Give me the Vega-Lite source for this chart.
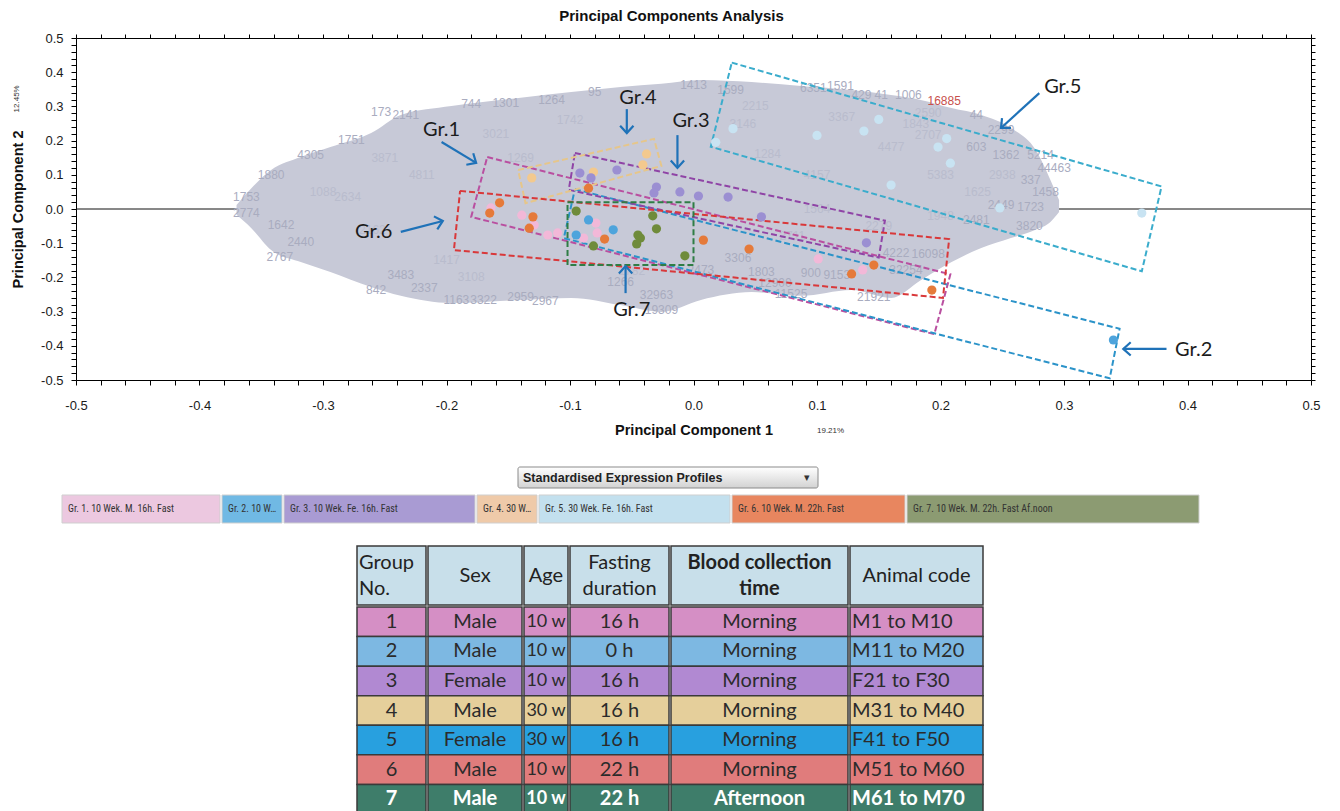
{
"$schema": "https://vega.github.io/schema/vega-lite/v6.json",
"background": "white",
"padding": {"left": 10, "top": 9, "right": 4, "bottom": 0},
"config": {"view": {"stroke": null}, "font": "Liberation Sans",
  "axis": {"grid": false, "labelFont": "Liberation Sans", "labelFontSize": 13, "labelColor": "#1a1a1a", "titleFont": "Liberation Sans", "titleFontSize": 14.5, "titleFontWeight": "bold", "titleColor": "#111", "domainColor": "#000", "tickColor": "#000", "domainWidth": 1, "tickWidth": 1}},
"datasets": {
  "samples": [
    {"g":"5","x":0.032,"y":0.235},{"g":"5","x":0.018,"y":0.195},{"g":"5","x":0.100,"y":0.215},{"g":"5","x":0.138,"y":0.228},{"g":"5","x":0.150,"y":0.262},{"g":"5","x":0.205,"y":0.206},{"g":"5","x":0.198,"y":0.181},{"g":"5","x":0.208,"y":0.134},{"g":"5","x":0.160,"y":0.070},{"g":"5","x":0.248,"y":0.003},{"g":"5","x":0.363,"y":-0.012},
    {"g":"4","x":-0.131,"y":0.091},{"g":"4","x":-0.081,"y":0.108},{"g":"4","x":-0.038,"y":0.161},{"g":"4","x":-0.041,"y":0.129},
    {"g":"3","x":-0.092,"y":0.105},{"g":"3","x":-0.083,"y":0.091},{"g":"3","x":-0.062,"y":0.114},{"g":"3","x":-0.030,"y":0.064},{"g":"3","x":-0.032,"y":0.047},{"g":"3","x":-0.011,"y":0.050},{"g":"3","x":0.004,"y":0.038},{"g":"3","x":0.028,"y":0.035},{"g":"3","x":0.055,"y":-0.023},{"g":"3","x":0.140,"y":-0.099},
    {"g":"1","x":-0.164,"y":0.003},{"g":"1","x":-0.139,"y":-0.018},{"g":"1","x":-0.129,"y":-0.047},{"g":"1","x":-0.118,"y":-0.076},{"g":"1","x":-0.110,"y":-0.070},{"g":"1","x":-0.079,"y":-0.041},{"g":"1","x":-0.089,"y":-0.085},{"g":"1","x":-0.078,"y":-0.070},{"g":"1","x":0.101,"y":-0.146},{"g":"1","x":0.137,"y":-0.178},
    {"g":"2","x":-0.085,"y":-0.032},{"g":"2","x":-0.065,"y":-0.061},{"g":"2","x":-0.095,"y":-0.076},{"g":"2","x":0.340,"y":-0.383},
    {"g":"6","x":-0.157,"y":0.018},{"g":"6","x":-0.165,"y":-0.012},{"g":"6","x":-0.130,"y":-0.023},{"g":"6","x":-0.133,"y":-0.056},{"g":"6","x":-0.085,"y":0.061},{"g":"6","x":-0.072,"y":-0.088},{"g":"6","x":0.008,"y":-0.091},{"g":"6","x":0.045,"y":-0.117},{"g":"6","x":0.146,"y":-0.164},{"g":"6","x":0.128,"y":-0.190},{"g":"6","x":0.193,"y":-0.237},
    {"g":"7","x":-0.095,"y":-0.006},{"g":"7","x":-0.033,"y":-0.020},{"g":"7","x":-0.030,"y":-0.058},{"g":"7","x":-0.045,"y":-0.076},{"g":"7","x":-0.043,"y":-0.085},{"g":"7","x":-0.046,"y":-0.102},{"g":"7","x":-0.007,"y":-0.137},{"g":"7","x":-0.081,"y":-0.108}
  ],
  "cloud": [
    {"x":-0.370,"hi":0.012,"lo":-0.017},{"x":-0.358,"hi":0.061,"lo":-0.056},{"x":-0.342,"hi":0.114,"lo":-0.120},{"x":-0.318,"hi":0.152,"lo":-0.155},{"x":-0.294,"hi":0.181,"lo":-0.184},{"x":-0.261,"hi":0.222,"lo":-0.228},{"x":-0.237,"hi":0.275,"lo":-0.254},{"x":-0.196,"hi":0.301,"lo":-0.275},{"x":-0.140,"hi":0.325,"lo":-0.266},{"x":-0.099,"hi":0.342,"lo":-0.260},{"x":-0.059,"hi":0.357,"lo":-0.281},{"x":-0.026,"hi":0.366,"lo":-0.301},{"x":0.006,"hi":0.377,"lo":-0.266},{"x":0.047,"hi":0.371,"lo":-0.243},{"x":0.087,"hi":0.360,"lo":-0.254},{"x":0.128,"hi":0.348,"lo":-0.237},{"x":0.160,"hi":0.333,"lo":-0.260},{"x":0.184,"hi":0.319,"lo":-0.208},{"x":0.209,"hi":0.295,"lo":-0.155},{"x":0.233,"hi":0.275,"lo":-0.114},{"x":0.257,"hi":0.237,"lo":-0.085},{"x":0.277,"hi":0.173,"lo":-0.061},{"x":0.289,"hi":0.085,"lo":-0.038},{"x":0.296,"hi":0.026,"lo":-0.009}
  ],
  "edgeLabels": [
    {"x":-0.253,"y":0.284,"t":"173"},{"x":-0.233,"y":0.275,"t":"2141"},{"x":-0.180,"y":0.307,"t":"744"},{"x":-0.152,"y":0.310,"t":"1301"},{"x":-0.115,"y":0.319,"t":"1264"},{"x":-0.080,"y":0.342,"t":"95"},{"x":0.0,"y":0.363,"t":"1413"},{"x":0.030,"y":0.348,"t":"1599"},{"x":0.097,"y":0.354,"t":"6351"},{"x":0.119,"y":0.360,"t":"1591"},{"x":0.136,"y":0.333,"t":"429"},{"x":0.152,"y":0.333,"t":"41"},{"x":0.174,"y":0.333,"t":"1006"},{"x":0.229,"y":0.275,"t":"44"},{"x":0.249,"y":0.231,"t":"2299"},{"x":0.229,"y":0.181,"t":"603"},{"x":0.253,"y":0.158,"t":"1362"},{"x":0.281,"y":0.158,"t":"5214"},{"x":0.292,"y":0.120,"t":"44463"},{"x":0.273,"y":0.085,"t":"337"},{"x":0.285,"y":0.050,"t":"1458"},{"x":0.249,"y":0.012,"t":"2449"},{"x":0.273,"y":0.006,"t":"1723"},{"x":0.272,"y":-0.050,"t":"3820"},{"x":0.229,"y":-0.032,"t":"2481"},{"x":0.164,"y":-0.129,"t":"4222"},{"x":0.190,"y":-0.132,"t":"16098"},{"x":0.172,"y":-0.178,"t":"32254"},{"x":0.146,"y":-0.257,"t":"21921"},{"x":0.079,"y":-0.249,"t":"11525"},{"x":0.095,"y":-0.187,"t":"900"},{"x":0.116,"y":-0.193,"t":"9153"},{"x":0.055,"y":-0.184,"t":"1803"},{"x":0.006,"y":-0.178,"t":"2473"},{"x":0.036,"y":-0.143,"t":"3306"},{"x":-0.026,"y":-0.295,"t":"19309"},{"x":-0.030,"y":-0.251,"t":"32963"},{"x":-0.059,"y":-0.213,"t":"1266"},{"x":-0.140,"y":-0.257,"t":"2959"},{"x":-0.192,"y":-0.266,"t":"1163"},{"x":-0.170,"y":-0.266,"t":"3322"},{"x":-0.257,"y":-0.237,"t":"842"},{"x":-0.237,"y":-0.193,"t":"3483"},{"x":-0.335,"y":-0.140,"t":"2767"},{"x":-0.318,"y":-0.096,"t":"2440"},{"x":-0.334,"y":-0.047,"t":"1642"},{"x":-0.362,"y":-0.012,"t":"2774"},{"x":-0.362,"y":0.035,"t":"1753"},{"x":-0.342,"y":0.099,"t":"1880"},{"x":-0.310,"y":0.158,"t":"4305"},{"x":-0.277,"y":0.202,"t":"1751"},{"x":-0.218,"y":-0.230,"t":"2337"},{"x":-0.120,"y":-0.270,"t":"2967"},{"x":0.066,"y":-0.215,"t":"12900"}
  ],
  "innerLabels": [
    {"x":-0.30,"y":0.05,"t":"1088"},{"x":-0.26,"y":-0.06,"t":"2162"},{"x":-0.22,"y":0.10,"t":"4811"},{"x":-0.16,"y":0.22,"t":"3021"},{"x":-0.10,"y":0.26,"t":"1742"},{"x":0.05,"y":0.30,"t":"2215"},{"x":0.12,"y":0.27,"t":"3367"},{"x":0.18,"y":0.25,"t":"1843"},{"x":0.19,"y":0.215,"t":"2707"},{"x":0.20,"y":0.10,"t":"5383"},{"x":0.23,"y":0.05,"t":"1625"},{"x":0.25,"y":0.10,"t":"2938"},{"x":0.10,"y":0.10,"t":"4157"},{"x":0.06,"y":0.16,"t":"1284"},{"x":-0.20,"y":-0.15,"t":"1417"},{"x":-0.28,"y":0.035,"t":"2634"},{"x":-0.18,"y":-0.20,"t":"3108"},{"x":0.10,"y":0.00,"t":"1564"},{"x":0.15,"y":-0.05,"t":"2279"},{"x":0.20,"y":-0.02,"t":"1948"},{"x":0.08,"y":-0.08,"t":"2711"},{"x":-0.25,"y":0.15,"t":"3871"},{"x":-0.14,"y":0.15,"t":"1269"},{"x":0.16,"y":0.18,"t":"4477"},{"x":0.19,"y":0.28,"t":"2590"},{"x":-0.05,"y":-0.18,"t":"1782"},{"x":0.04,"y":0.25,"t":"3146"}
  ],
  "redLabel": [{"x":0.203,"y":0.316,"t":"16885"}],
  "pctX": [{"x":0.100,"y":-0.649,"t":"19.21%"}],
  "pctY": [{"x":-0.548,"y":0.322,"t":"12.45%"}],
  "boxes": [
    {"b":"1","k":0,"x":-0.167,"y":0.152},{"b":"1","k":1,"x":0.208,"y":-0.191},{"b":"1","k":2,"x":0.195,"y":-0.366},{"b":"1","k":3,"x":-0.180,"y":-0.023},{"b":"1","k":4,"x":-0.167,"y":0.152},
    {"b":"2","k":0,"x":-0.096,"y":0.058},{"b":"2","k":1,"x":0.345,"y":-0.350},{"b":"2","k":2,"x":0.337,"y":-0.495},{"b":"2","k":3,"x":-0.105,"y":-0.085},{"b":"2","k":4,"x":-0.096,"y":0.058},
    {"b":"3","k":0,"x":-0.096,"y":0.164},{"b":"3","k":1,"x":0.155,"y":-0.034},{"b":"3","k":2,"x":0.150,"y":-0.142},{"b":"3","k":3,"x":-0.101,"y":0.056},{"b":"3","k":4,"x":-0.096,"y":0.164},
    {"b":"4","k":0,"x":-0.142,"y":0.114},{"b":"4","k":1,"x":-0.032,"y":0.205},{"b":"4","k":2,"x":-0.026,"y":0.126},{"b":"4","k":3,"x":-0.136,"y":0.017},{"b":"4","k":4,"x":-0.142,"y":0.114},
    {"b":"5","k":0,"x":0.031,"y":0.428},{"b":"5","k":1,"x":0.379,"y":0.066},{"b":"5","k":2,"x":0.363,"y":-0.182},{"b":"5","k":3,"x":0.014,"y":0.182},{"b":"5","k":4,"x":0.031,"y":0.428},
    {"b":"6","k":0,"x":-0.189,"y":0.053},{"b":"6","k":1,"x":0.207,"y":-0.088},{"b":"6","k":2,"x":0.202,"y":-0.260},{"b":"6","k":3,"x":-0.194,"y":-0.120},{"b":"6","k":4,"x":-0.189,"y":0.053},
    {"b":"7","k":0,"x":-0.102,"y":0.020},{"b":"7","k":1,"x":0.000,"y":0.020},{"b":"7","k":2,"x":0.000,"y":-0.164},{"b":"7","k":3,"x":-0.102,"y":-0.164},{"b":"7","k":4,"x":-0.102,"y":0.020}
  ],
  "arrows": [
    {"lab":"Gr.1","x1":-0.204,"y1":0.196,"x2":-0.176,"y2":0.135,"tx":-0.204,"ty":0.231},
    {"lab":"Gr.4","x1":-0.054,"y1":0.292,"x2":-0.054,"y2":0.222,"tx":-0.045,"ty":0.325},
    {"lab":"Gr.3","x1":-0.013,"y1":0.216,"x2":-0.013,"y2":0.120,"tx":-0.002,"ty":0.257},
    {"lab":"Gr.6","x1":-0.237,"y1":-0.067,"x2":-0.203,"y2":-0.035,"tx":-0.259,"ty":-0.067},
    {"lab":"Gr.7","x1":-0.055,"y1":-0.246,"x2":-0.055,"y2":-0.167,"tx":-0.050,"ty":-0.295},
    {"lab":"Gr.5","x1":0.280,"y1":0.339,"x2":0.249,"y2":0.237,"tx":0.299,"ty":0.357},
    {"lab":"Gr.2","x1":0.383,"y1":-0.409,"x2":0.348,"y2":-0.409,"tx":0.405,"ty":-0.412}
  ],
  "legend": [
    {"g":"1","label":"Gr. 1. 10 Wek. M. 16h. Fast"},{"g":"2","label":"Gr. 2. 10 W…"},{"g":"3","label":"Gr. 3. 10 Wek. Fe. 16h. Fast"},{"g":"4","label":"Gr. 4. 30 W…"},{"g":"5","label":"Gr. 5. 30 Wek. Fe. 16h. Fast"},{"g":"6","label":"Gr. 6. 10 Wek. M. 22h. Fast"},{"g":"7","label":"Gr. 7. 10 Wek. M. 22h. Fast Af.noon"}
  ],
  "table": [
    {"Group":"1","Sex":"Male","Age":"10 w","Fasting":"16 h","Blood":"Morning","Animal":"M1 to M10"},
    {"Group":"2","Sex":"Male","Age":"10 w","Fasting":"0 h","Blood":"Morning","Animal":"M11 to M20"},
    {"Group":"3","Sex":"Female","Age":"10 w","Fasting":"16 h","Blood":"Morning","Animal":"F21 to F30"},
    {"Group":"4","Sex":"Male","Age":"30 w","Fasting":"16 h","Blood":"Morning","Animal":"M31 to M40"},
    {"Group":"5","Sex":"Female","Age":"30 w","Fasting":"16 h","Blood":"Morning","Animal":"F41 to F50"},
    {"Group":"6","Sex":"Male","Age":"10 w","Fasting":"22 h","Blood":"Morning","Animal":"M51 to M60"},
    {"Group":"7","Sex":"Male","Age":"10 w","Fasting":"22 h","Blood":"Afternoon","Animal":"M61 to M70"}
  ]
},
"columns": 1,
"align": "none",
"spacing": 29,
"concat": [
{
  "width": 1235, "height": 342,
  "title": {"text": "Principal Components Analysis", "fontSize": 15, "fontWeight": "bold", "font": "Liberation Sans", "color": "#111", "offset": 8, "dx": -22},
  "resolve": {"axis": {"x": "independent", "y": "independent"}},
  "layer": [
    {"data": {"values": [{"z": 0}]}, "mark": {"type": "rule", "color": "#111", "strokeWidth": 1},
     "encoding": {"y": {"field": "z", "type": "quantitative", "scale": {"domain": [-0.5, 0.5], "nice": false, "zero": false}, "axis": null}}},
    {"data": {"name": "cloud"}, "mark": {"type": "area", "color": "#c7c9d7", "interpolate": "monotone", "opacity": 1},
     "encoding": {
       "x": {"field": "x", "type": "quantitative", "scale": {"domain": [-0.5, 0.5], "nice": false, "zero": false},
             "axis": {"orient": "bottom", "title": "Principal Component 1", "tickCount": 50, "tickSize": 5, "labelPadding": 14, "titlePadding": 11, "labelOverlap": false, "labelFlush": false, "labelBound": false,
                      "labelExpr": "abs(datum.value*10 - round(datum.value*10)) < 0.001 ? replace(format(datum.value, '.1f'), '\u2212', '-') : ''"}},
       "y": {"field": "hi", "type": "quantitative", "scale": {"domain": [-0.5, 0.5], "nice": false, "zero": false},
             "axis": {"orient": "left", "title": "Principal Component 2", "tickCount": 50, "tickSize": 5, "labelPadding": 8, "titlePadding": 11, "minExtent": 40, "maxExtent": 40, "labelOverlap": false, "labelFlush": false, "labelBound": false,
                      "labelExpr": "abs(datum.value*10 - round(datum.value*10)) < 0.001 ? replace(format(datum.value, '.1f'), '\u2212', '-') : ''"}},
       "y2": {"field": "lo"}}},
    {"data": {"name": "innerLabels"}, "mark": {"type": "text", "fontSize": 12, "font": "Liberation Sans", "color": "#b9bccd"},
     "encoding": {"x": {"field": "x", "type": "quantitative", "scale": {"domain": [-0.5, 0.5], "nice": false, "zero": false}, "axis": null},
                  "y": {"field": "y", "type": "quantitative", "scale": {"domain": [-0.5, 0.5], "nice": false, "zero": false}, "axis": null},
                  "text": {"field": "t"}}},
    {"data": {"name": "edgeLabels"}, "mark": {"type": "text", "fontSize": 12, "font": "Liberation Sans", "color": "#a9acbf"},
     "encoding": {"x": {"field": "x", "type": "quantitative", "scale": {"domain": [-0.5, 0.5], "nice": false, "zero": false}, "axis": null},
                  "y": {"field": "y", "type": "quantitative", "scale": {"domain": [-0.5, 0.5], "nice": false, "zero": false}, "axis": null},
                  "text": {"field": "t"}}},
    {"data": {"name": "redLabel"}, "mark": {"type": "text", "fontSize": 12, "font": "Liberation Sans", "color": "#c8504c"},
     "encoding": {"x": {"field": "x", "type": "quantitative", "scale": {"domain": [-0.5, 0.5], "nice": false, "zero": false}, "axis": null},
                  "y": {"field": "y", "type": "quantitative", "scale": {"domain": [-0.5, 0.5], "nice": false, "zero": false}, "axis": null},
                  "text": {"field": "t"}}},
    {"data": {"name": "pctX"}, "mark": {"type": "text", "fontSize": 8, "font": "Liberation Sans", "color": "#333", "align": "left"},
     "encoding": {"x": {"field": "x", "type": "quantitative", "scale": {"domain": [-0.5, 0.5], "nice": false, "zero": false}, "axis": null},
                  "y": {"field": "y", "type": "quantitative", "scale": {"domain": [-0.5, 0.5], "nice": false, "zero": false}, "axis": null},
                  "text": {"field": "t"}}},
    {"data": {"name": "pctY"}, "mark": {"type": "text", "fontSize": 8, "font": "Liberation Sans", "color": "#333", "angle": 270},
     "encoding": {"x": {"field": "x", "type": "quantitative", "scale": {"domain": [-0.5, 0.5], "nice": false, "zero": false}, "axis": null},
                  "y": {"field": "y", "type": "quantitative", "scale": {"domain": [-0.5, 0.5], "nice": false, "zero": false}, "axis": null},
                  "text": {"field": "t"}}},
    {"data": {"name": "boxes"}, "mark": {"type": "line", "strokeWidth": 2, "strokeDash": [6, 3]},
     "encoding": {"x": {"field": "x", "type": "quantitative", "scale": {"domain": [-0.5, 0.5], "nice": false, "zero": false}, "axis": null},
                  "y": {"field": "y", "type": "quantitative", "scale": {"domain": [-0.5, 0.5], "nice": false, "zero": false}, "axis": null},
                  "order": {"field": "k", "type": "quantitative"},
                  "stroke": {"field": "b", "type": "nominal", "legend": null, "scale": {"domain": ["1","2","3","4","5","6","7"], "range": ["#b94fa0","#2b93c9","#8f44a6","#e6c68a","#3aaccc","#d9383a","#2f7d45"]}}}},
    {"data": {"name": "samples"}, "mark": {"type": "circle", "size": 85, "opacity": 1},
     "encoding": {"x": {"field": "x", "type": "quantitative", "scale": {"domain": [-0.5, 0.5], "nice": false, "zero": false},
                        "axis": {"orient": "top", "labels": false, "title": null, "tickCount": 50, "tickSize": 4}},
                  "y": {"field": "y", "type": "quantitative", "scale": {"domain": [-0.5, 0.5], "nice": false, "zero": false},
                        "axis": {"orient": "right", "labels": false, "title": null, "tickCount": 50, "tickSize": 4, "minExtent": 19, "maxExtent": 19}},
                  "fill": {"field": "g", "type": "nominal", "legend": null, "scale": {"domain": ["1","2","3","4","5","6","7"], "range": ["#f2b8d8","#4ea4dc","#9b8fd2","#f3c98e","#c8e3f2","#e57a3a","#6f8b3a"]}}}},
    {"data": {"name": "arrows"}, "mark": {"type": "rule", "color": "#1f72b8", "strokeWidth": 2.2},
     "encoding": {"x": {"field": "x1", "type": "quantitative", "scale": {"domain": [-0.5, 0.5], "nice": false, "zero": false}, "axis": null},
                  "y": {"field": "y1", "type": "quantitative", "scale": {"domain": [-0.5, 0.5], "nice": false, "zero": false}, "axis": null},
                  "x2": {"field": "x2"}, "y2": {"field": "y2"}}},
    {"data": {"name": "arrows"},
     "transform": [{"calculate": "atan2(-(datum.y2 - datum.y1) * 342, (datum.x2 - datum.x1) * 1235) * 180 / PI", "as": "ang"}],
     "mark": {"type": "point", "shape": "M -1 -0.9 L 0 0 L -1 0.9", "filled": false, "stroke": "#1f72b8", "strokeWidth": 2.2, "size": 220, "opacity": 1},
     "encoding": {"x": {"field": "x2", "type": "quantitative", "scale": {"domain": [-0.5, 0.5], "nice": false, "zero": false}, "axis": null},
                  "y": {"field": "y2", "type": "quantitative", "scale": {"domain": [-0.5, 0.5], "nice": false, "zero": false}, "axis": null},
                  "angle": {"field": "ang", "type": "quantitative", "scale": null}}},
    {"data": {"name": "arrows"}, "mark": {"type": "text", "font": "Lato", "fontSize": 20, "color": "#1c1c1c"},
     "encoding": {"x": {"field": "tx", "type": "quantitative", "scale": {"domain": [-0.5, 0.5], "nice": false, "zero": false}, "axis": null},
                  "y": {"field": "ty", "type": "quantitative", "scale": {"domain": [-0.5, 0.5], "nice": false, "zero": false}, "axis": null},
                  "text": {"field": "lab"}}}
  ]
},
{
  "columns": 1, "align": "none", "spacing": 21,
  "concat": [
    {"columns": 1, "align": "none", "spacing": 5, "concat": [
      {"spacing": 0, "hconcat": [
        {"width": 441, "height": 21, "data": {"values": [{"s": 0}]}, "mark": {"type": "rect", "opacity": 0},
         "encoding": {"x": {"datum": 0, "type": "quantitative", "scale": {"domain": [0, 1]}, "axis": null}, "x2": {"datum": 1}}},
        {"width": 300, "height": 21, "data": {"values": [{"t": "Standardised Expression Profiles", "a": "▾"}]},
         "layer": [
           {"mark": {"type": "rect", "stroke": "#8a8a8a", "strokeWidth": 1, "cornerRadius": 2, "fill": {"gradient": "linear", "x1": 0, "y1": 0, "x2": 0, "y2": 1, "stops": [{"offset": 0, "color": "#ffffff"}, {"offset": 1, "color": "#d2d2d2"}]}},
            "encoding": {"x": {"datum": 0, "type": "quantitative", "scale": {"domain": [0, 1]}, "axis": null}, "x2": {"datum": 1},
                         "y": {"datum": 0, "type": "quantitative", "scale": {"domain": [0, 1]}, "axis": null}, "y2": {"datum": 1}}},
           {"mark": {"type": "text", "align": "left", "dx": 5, "fontWeight": "bold", "fontSize": 12.5, "font": "Liberation Sans", "color": "#222"},
            "encoding": {"x": {"datum": 0, "type": "quantitative", "scale": {"domain": [0, 1]}, "axis": null},
                         "y": {"datum": 0.5, "type": "quantitative", "scale": {"domain": [0, 1]}, "axis": null}, "text": {"field": "t"}}},
           {"mark": {"type": "text", "align": "right", "dx": -8, "fontSize": 11, "color": "#333"},
            "encoding": {"x": {"datum": 1, "type": "quantitative", "scale": {"domain": [0, 1]}, "axis": null},
                         "y": {"datum": 0.5, "type": "quantitative", "scale": {"domain": [0, 1]}, "axis": null}, "text": {"field": "a"}}}
         ]}
      ]},
      {"spacing": 0, "hconcat": [
        {"width": 144, "height": 28, "data": {"name": "legend"}, "transform": [{"filter": "datum.g == '1'"}], "layer": [
          {"mark": {"type": "rect", "fill": "#ecc8e0", "stroke": "#cfcfcf"}, "encoding": {"x": {"datum": 0, "type": "quantitative", "scale": {"domain": [0.0886, 1]}, "axis": null}, "x2": {"datum": 1}, "y": {"datum": 0, "type": "quantitative", "scale": {"domain": [0, 1]}, "axis": null}, "y2": {"datum": 1}}},
          {"mark": {"type": "text", "align": "left", "dx": 6, "fontSize": 10, "font": "Liberation Sans Narrow, Roboto Condensed, Roboto, sans-serif", "color": "#333"}, "encoding": {"x": {"datum": 0, "type": "quantitative", "scale": {"domain": [0.0886, 1]}, "axis": null}, "y": {"datum": 0.5, "type": "quantitative", "scale": {"domain": [0, 1]}, "axis": null}, "text": {"field": "label"}}}]},
        {"width": 60, "height": 28, "data": {"name": "legend"}, "transform": [{"filter": "datum.g == '2'"}], "layer": [
          {"mark": {"type": "rect", "fill": "#70b9e4", "stroke": "#cfcfcf"}, "encoding": {"x": {"datum": 0, "type": "quantitative", "scale": {"domain": [0, 1]}, "axis": null}, "x2": {"datum": 1}, "y": {"datum": 0, "type": "quantitative", "scale": {"domain": [0, 1]}, "axis": null}, "y2": {"datum": 1}}},
          {"mark": {"type": "text", "align": "left", "dx": 6, "fontSize": 10, "font": "Liberation Sans Narrow, Roboto Condensed, Roboto, sans-serif", "color": "#333"}, "encoding": {"x": {"datum": 0, "type": "quantitative", "scale": {"domain": [0, 1]}, "axis": null}, "y": {"datum": 0.5, "type": "quantitative", "scale": {"domain": [0, 1]}, "axis": null}, "text": {"field": "label"}}}]},
        {"width": 191, "height": 28, "data": {"name": "legend"}, "transform": [{"filter": "datum.g == '3'"}], "layer": [
          {"mark": {"type": "rect", "fill": "#a99bd3", "stroke": "#cfcfcf"}, "encoding": {"x": {"datum": 0, "type": "quantitative", "scale": {"domain": [0, 1]}, "axis": null}, "x2": {"datum": 1}, "y": {"datum": 0, "type": "quantitative", "scale": {"domain": [0, 1]}, "axis": null}, "y2": {"datum": 1}}},
          {"mark": {"type": "text", "align": "left", "dx": 6, "fontSize": 10, "font": "Liberation Sans Narrow, Roboto Condensed, Roboto, sans-serif", "color": "#333"}, "encoding": {"x": {"datum": 0, "type": "quantitative", "scale": {"domain": [0, 1]}, "axis": null}, "y": {"datum": 0.5, "type": "quantitative", "scale": {"domain": [0, 1]}, "axis": null}, "text": {"field": "label"}}}]},
        {"width": 60, "height": 28, "data": {"name": "legend"}, "transform": [{"filter": "datum.g == '4'"}], "layer": [
          {"mark": {"type": "rect", "fill": "#efcaa9", "stroke": "#cfcfcf"}, "encoding": {"x": {"datum": 0, "type": "quantitative", "scale": {"domain": [0, 1]}, "axis": null}, "x2": {"datum": 1}, "y": {"datum": 0, "type": "quantitative", "scale": {"domain": [0, 1]}, "axis": null}, "y2": {"datum": 1}}},
          {"mark": {"type": "text", "align": "left", "dx": 6, "fontSize": 10, "font": "Liberation Sans Narrow, Roboto Condensed, Roboto, sans-serif", "color": "#333"}, "encoding": {"x": {"datum": 0, "type": "quantitative", "scale": {"domain": [0, 1]}, "axis": null}, "y": {"datum": 0.5, "type": "quantitative", "scale": {"domain": [0, 1]}, "axis": null}, "text": {"field": "label"}}}]},
        {"width": 191, "height": 28, "data": {"name": "legend"}, "transform": [{"filter": "datum.g == '5'"}], "layer": [
          {"mark": {"type": "rect", "fill": "#c3e0ee", "stroke": "#cfcfcf"}, "encoding": {"x": {"datum": 0, "type": "quantitative", "scale": {"domain": [0, 1]}, "axis": null}, "x2": {"datum": 1}, "y": {"datum": 0, "type": "quantitative", "scale": {"domain": [0, 1]}, "axis": null}, "y2": {"datum": 1}}},
          {"mark": {"type": "text", "align": "left", "dx": 6, "fontSize": 10, "font": "Liberation Sans Narrow, Roboto Condensed, Roboto, sans-serif", "color": "#333"}, "encoding": {"x": {"datum": 0, "type": "quantitative", "scale": {"domain": [0, 1]}, "axis": null}, "y": {"datum": 0.5, "type": "quantitative", "scale": {"domain": [0, 1]}, "axis": null}, "text": {"field": "label"}}}]},
        {"width": 173, "height": 28, "data": {"name": "legend"}, "transform": [{"filter": "datum.g == '6'"}], "layer": [
          {"mark": {"type": "rect", "fill": "#e8865f", "stroke": "#cfcfcf"}, "encoding": {"x": {"datum": 0, "type": "quantitative", "scale": {"domain": [0, 1]}, "axis": null}, "x2": {"datum": 1}, "y": {"datum": 0, "type": "quantitative", "scale": {"domain": [0, 1]}, "axis": null}, "y2": {"datum": 1}}},
          {"mark": {"type": "text", "align": "left", "dx": 6, "fontSize": 10, "font": "Liberation Sans Narrow, Roboto Condensed, Roboto, sans-serif", "color": "#333"}, "encoding": {"x": {"datum": 0, "type": "quantitative", "scale": {"domain": [0, 1]}, "axis": null}, "y": {"datum": 0.5, "type": "quantitative", "scale": {"domain": [0, 1]}, "axis": null}, "text": {"field": "label"}}}]},
        {"width": 292, "height": 28, "data": {"name": "legend"}, "transform": [{"filter": "datum.g == '7'"}], "layer": [
          {"mark": {"type": "rect", "fill": "#8c9b72", "stroke": "#cfcfcf"}, "encoding": {"x": {"datum": 0, "type": "quantitative", "scale": {"domain": [0, 1]}, "axis": null}, "x2": {"datum": 1}, "y": {"datum": 0, "type": "quantitative", "scale": {"domain": [0, 1]}, "axis": null}, "y2": {"datum": 1}}},
          {"mark": {"type": "text", "align": "left", "dx": 6, "fontSize": 10, "font": "Liberation Sans Narrow, Roboto Condensed, Roboto, sans-serif", "color": "#333"}, "encoding": {"x": {"datum": 0, "type": "quantitative", "scale": {"domain": [0, 1]}, "axis": null}, "y": {"datum": 0.5, "type": "quantitative", "scale": {"domain": [0, 1]}, "axis": null}, "text": {"field": "label"}}}]}
      ]}
    ]},
    {"spacing": 0, "hconcat": [
      {"width": 280, "height": 20, "data": {"values": [{"s": 0}]}, "mark": {"type": "rect", "opacity": 0},
       "encoding": {"x": {"datum": 0, "type": "quantitative", "scale": {"domain": [0, 1]}, "axis": null}, "x2": {"datum": 1}}},
      {"spacing": 0, "vconcat": [
        {"spacing": 0, "hconcat": [
          {"width": 69, "height": 59, "data": {"values": [{"h": "Group\nNo."}]}, "layer": [
            {"mark": {"type": "rect", "fill": "#c8dfea", "stroke": "#3a3a3a", "strokeWidth": 1.5}, "encoding": {"x": {"datum": 0, "type": "quantitative", "scale": {"domain": [0, 1]}, "axis": null}, "x2": {"datum": 1}, "y": {"datum": 0, "type": "quantitative", "scale": {"domain": [0, 1]}, "axis": null}, "y2": {"datum": 1}}},
            {"mark": {"type": "text", "align": "left", "dx": 2, "dy": -13, "font": "Lato", "fontSize": 20, "color": "#222", "lineBreak": "\n", "lineHeight": 26}, "encoding": {"x": {"datum": 0, "type": "quantitative", "scale": {"domain": [0, 1]}, "axis": null}, "y": {"datum": 0.5, "type": "quantitative", "scale": {"domain": [0, 1]}, "axis": null}, "text": {"field": "h"}}}]},
          {"width": 94, "height": 59, "data": {"values": [{"h": "Sex"}]}, "layer": [
            {"mark": {"type": "rect", "fill": "#c8dfea", "stroke": "#3a3a3a", "strokeWidth": 1.5}, "encoding": {"x": {"datum": 0, "type": "quantitative", "scale": {"domain": [0, 1]}, "axis": null}, "x2": {"datum": 1}, "y": {"datum": 0, "type": "quantitative", "scale": {"domain": [0, 1]}, "axis": null}, "y2": {"datum": 1}}},
            {"mark": {"type": "text", "font": "Lato", "fontSize": 20, "color": "#222"}, "encoding": {"x": {"datum": 0.5, "type": "quantitative", "scale": {"domain": [0, 1]}, "axis": null}, "y": {"datum": 0.5, "type": "quantitative", "scale": {"domain": [0, 1]}, "axis": null}, "text": {"field": "h"}}}]},
          {"width": 44, "height": 59, "data": {"values": [{"h": "Age"}]}, "layer": [
            {"mark": {"type": "rect", "fill": "#c8dfea", "stroke": "#3a3a3a", "strokeWidth": 1.5}, "encoding": {"x": {"datum": 0, "type": "quantitative", "scale": {"domain": [0, 1]}, "axis": null}, "x2": {"datum": 1}, "y": {"datum": 0, "type": "quantitative", "scale": {"domain": [0, 1]}, "axis": null}, "y2": {"datum": 1}}},
            {"mark": {"type": "text", "font": "Lato", "fontSize": 20, "color": "#222"}, "encoding": {"x": {"datum": 0.5, "type": "quantitative", "scale": {"domain": [0, 1]}, "axis": null}, "y": {"datum": 0.5, "type": "quantitative", "scale": {"domain": [0, 1]}, "axis": null}, "text": {"field": "h"}}}]},
          {"width": 99, "height": 59, "data": {"values": [{"h": "Fasting\nduration"}]}, "layer": [
            {"mark": {"type": "rect", "fill": "#c8dfea", "stroke": "#3a3a3a", "strokeWidth": 1.5}, "encoding": {"x": {"datum": 0, "type": "quantitative", "scale": {"domain": [0, 1]}, "axis": null}, "x2": {"datum": 1}, "y": {"datum": 0, "type": "quantitative", "scale": {"domain": [0, 1]}, "axis": null}, "y2": {"datum": 1}}},
            {"mark": {"type": "text", "dy": -13, "font": "Lato", "fontSize": 20, "color": "#222", "lineBreak": "\n", "lineHeight": 26}, "encoding": {"x": {"datum": 0.5, "type": "quantitative", "scale": {"domain": [0, 1]}, "axis": null}, "y": {"datum": 0.5, "type": "quantitative", "scale": {"domain": [0, 1]}, "axis": null}, "text": {"field": "h"}}}]},
          {"width": 177, "height": 59, "data": {"values": [{"h": "Blood collection\ntime"}]}, "layer": [
            {"mark": {"type": "rect", "fill": "#c8dfea", "stroke": "#3a3a3a", "strokeWidth": 1.5}, "encoding": {"x": {"datum": 0, "type": "quantitative", "scale": {"domain": [0, 1]}, "axis": null}, "x2": {"datum": 1}, "y": {"datum": 0, "type": "quantitative", "scale": {"domain": [0, 1]}, "axis": null}, "y2": {"datum": 1}}},
            {"mark": {"type": "text", "dy": -13, "font": "Lato", "fontSize": 20, "fontWeight": "bold", "color": "#222", "lineBreak": "\n", "lineHeight": 26}, "encoding": {"x": {"datum": 0.5, "type": "quantitative", "scale": {"domain": [0, 1]}, "axis": null}, "y": {"datum": 0.5, "type": "quantitative", "scale": {"domain": [0, 1]}, "axis": null}, "text": {"field": "h"}}}]},
          {"width": 133, "height": 59, "data": {"values": [{"h": "Animal code"}]}, "layer": [
            {"mark": {"type": "rect", "fill": "#c8dfea", "stroke": "#3a3a3a", "strokeWidth": 1.5}, "encoding": {"x": {"datum": 0, "type": "quantitative", "scale": {"domain": [0, 1]}, "axis": null}, "x2": {"datum": 1}, "y": {"datum": 0, "type": "quantitative", "scale": {"domain": [0, 1]}, "axis": null}, "y2": {"datum": 1}}},
            {"mark": {"type": "text", "font": "Lato", "fontSize": 20, "color": "#222"}, "encoding": {"x": {"datum": 0.5, "type": "quantitative", "scale": {"domain": [0, 1]}, "axis": null}, "y": {"datum": 0.5, "type": "quantitative", "scale": {"domain": [0, 1]}, "axis": null}, "text": {"field": "h"}}}]}
        ]},
        {"spacing": 0, "hconcat": [
          {"width": 69, "height": 207, "data": {"name": "table"}, "layer": [
            {"mark": {"type": "rect", "stroke": "#3a3a3a", "strokeWidth": 1.5}, "encoding": {"x": {"datum": 0, "type": "quantitative", "scale": {"domain": [0, 1]}, "axis": null}, "x2": {"datum": 1}, "y": {"field": "Group", "type": "ordinal", "scale": {"paddingInner": 0, "paddingOuter": 0}, "axis": null}, "color": {"field": "Group", "type": "ordinal", "legend": null, "scale": {"domain": ["1","2","3","4","5","6","7"], "range": ["#d58fc5","#7db8e2","#b189d2","#e5cf9b","#28a0df","#e07c7c","#3e7d6a"]}}}},
            {"transform": [{"filter": "datum.Group != '7'"}], "mark": {"type": "text", "font": "Lato", "fontSize": 20, "color": "#2b2b2b"}, "encoding": {"x": {"datum": 0.5, "type": "quantitative", "scale": {"domain": [0, 1]}, "axis": null}, "y": {"field": "Group", "type": "ordinal", "axis": null}, "text": {"field": "Group"}}},
            {"transform": [{"filter": "datum.Group == '7'"}], "mark": {"type": "text", "font": "Lato", "fontSize": 20, "fontWeight": "bold", "color": "#ffffff"}, "encoding": {"x": {"datum": 0.5, "type": "quantitative", "scale": {"domain": [0, 1]}, "axis": null}, "y": {"field": "Group", "type": "ordinal", "axis": null}, "text": {"field": "Group"}}}]},
          {"width": 94, "height": 207, "data": {"name": "table"}, "layer": [
            {"mark": {"type": "rect", "stroke": "#3a3a3a", "strokeWidth": 1.5}, "encoding": {"x": {"datum": 0, "type": "quantitative", "scale": {"domain": [0, 1]}, "axis": null}, "x2": {"datum": 1}, "y": {"field": "Group", "type": "ordinal", "scale": {"paddingInner": 0, "paddingOuter": 0}, "axis": null}, "color": {"field": "Group", "type": "ordinal", "legend": null, "scale": {"domain": ["1","2","3","4","5","6","7"], "range": ["#d58fc5","#7db8e2","#b189d2","#e5cf9b","#28a0df","#e07c7c","#3e7d6a"]}}}},
            {"transform": [{"filter": "datum.Group != '7'"}], "mark": {"type": "text", "font": "Lato", "fontSize": 20, "color": "#2b2b2b"}, "encoding": {"x": {"datum": 0.5, "type": "quantitative", "scale": {"domain": [0, 1]}, "axis": null}, "y": {"field": "Group", "type": "ordinal", "axis": null}, "text": {"field": "Sex"}}},
            {"transform": [{"filter": "datum.Group == '7'"}], "mark": {"type": "text", "font": "Lato", "fontSize": 20, "fontWeight": "bold", "color": "#ffffff"}, "encoding": {"x": {"datum": 0.5, "type": "quantitative", "scale": {"domain": [0, 1]}, "axis": null}, "y": {"field": "Group", "type": "ordinal", "axis": null}, "text": {"field": "Sex"}}}]},
          {"width": 44, "height": 207, "data": {"name": "table"}, "layer": [
            {"mark": {"type": "rect", "stroke": "#3a3a3a", "strokeWidth": 1.5}, "encoding": {"x": {"datum": 0, "type": "quantitative", "scale": {"domain": [0, 1]}, "axis": null}, "x2": {"datum": 1}, "y": {"field": "Group", "type": "ordinal", "scale": {"paddingInner": 0, "paddingOuter": 0}, "axis": null}, "color": {"field": "Group", "type": "ordinal", "legend": null, "scale": {"domain": ["1","2","3","4","5","6","7"], "range": ["#d58fc5","#7db8e2","#b189d2","#e5cf9b","#28a0df","#e07c7c","#3e7d6a"]}}}},
            {"transform": [{"filter": "datum.Group != '7'"}], "mark": {"type": "text", "font": "Lato", "fontSize": 18, "color": "#2b2b2b"}, "encoding": {"x": {"datum": 0.5, "type": "quantitative", "scale": {"domain": [0, 1]}, "axis": null}, "y": {"field": "Group", "type": "ordinal", "axis": null}, "text": {"field": "Age"}}},
            {"transform": [{"filter": "datum.Group == '7'"}], "mark": {"type": "text", "font": "Lato", "fontSize": 18, "fontWeight": "bold", "color": "#ffffff"}, "encoding": {"x": {"datum": 0.5, "type": "quantitative", "scale": {"domain": [0, 1]}, "axis": null}, "y": {"field": "Group", "type": "ordinal", "axis": null}, "text": {"field": "Age"}}}]},
          {"width": 99, "height": 207, "data": {"name": "table"}, "layer": [
            {"mark": {"type": "rect", "stroke": "#3a3a3a", "strokeWidth": 1.5}, "encoding": {"x": {"datum": 0, "type": "quantitative", "scale": {"domain": [0, 1]}, "axis": null}, "x2": {"datum": 1}, "y": {"field": "Group", "type": "ordinal", "scale": {"paddingInner": 0, "paddingOuter": 0}, "axis": null}, "color": {"field": "Group", "type": "ordinal", "legend": null, "scale": {"domain": ["1","2","3","4","5","6","7"], "range": ["#d58fc5","#7db8e2","#b189d2","#e5cf9b","#28a0df","#e07c7c","#3e7d6a"]}}}},
            {"transform": [{"filter": "datum.Group != '7'"}], "mark": {"type": "text", "font": "Lato", "fontSize": 20, "color": "#2b2b2b"}, "encoding": {"x": {"datum": 0.5, "type": "quantitative", "scale": {"domain": [0, 1]}, "axis": null}, "y": {"field": "Group", "type": "ordinal", "axis": null}, "text": {"field": "Fasting"}}},
            {"transform": [{"filter": "datum.Group == '7'"}], "mark": {"type": "text", "font": "Lato", "fontSize": 20, "fontWeight": "bold", "color": "#ffffff"}, "encoding": {"x": {"datum": 0.5, "type": "quantitative", "scale": {"domain": [0, 1]}, "axis": null}, "y": {"field": "Group", "type": "ordinal", "axis": null}, "text": {"field": "Fasting"}}}]},
          {"width": 177, "height": 207, "data": {"name": "table"}, "layer": [
            {"mark": {"type": "rect", "stroke": "#3a3a3a", "strokeWidth": 1.5}, "encoding": {"x": {"datum": 0, "type": "quantitative", "scale": {"domain": [0, 1]}, "axis": null}, "x2": {"datum": 1}, "y": {"field": "Group", "type": "ordinal", "scale": {"paddingInner": 0, "paddingOuter": 0}, "axis": null}, "color": {"field": "Group", "type": "ordinal", "legend": null, "scale": {"domain": ["1","2","3","4","5","6","7"], "range": ["#d58fc5","#7db8e2","#b189d2","#e5cf9b","#28a0df","#e07c7c","#3e7d6a"]}}}},
            {"transform": [{"filter": "datum.Group != '7'"}], "mark": {"type": "text", "font": "Lato", "fontSize": 20, "color": "#2b2b2b"}, "encoding": {"x": {"datum": 0.5, "type": "quantitative", "scale": {"domain": [0, 1]}, "axis": null}, "y": {"field": "Group", "type": "ordinal", "axis": null}, "text": {"field": "Blood"}}},
            {"transform": [{"filter": "datum.Group == '7'"}], "mark": {"type": "text", "font": "Lato", "fontSize": 20, "fontWeight": "bold", "color": "#ffffff"}, "encoding": {"x": {"datum": 0.5, "type": "quantitative", "scale": {"domain": [0, 1]}, "axis": null}, "y": {"field": "Group", "type": "ordinal", "axis": null}, "text": {"field": "Blood"}}}]},
          {"width": 133, "height": 207, "data": {"name": "table"}, "layer": [
            {"mark": {"type": "rect", "stroke": "#3a3a3a", "strokeWidth": 1.5}, "encoding": {"x": {"datum": 0, "type": "quantitative", "scale": {"domain": [0, 1]}, "axis": null}, "x2": {"datum": 1}, "y": {"field": "Group", "type": "ordinal", "scale": {"paddingInner": 0, "paddingOuter": 0}, "axis": null}, "color": {"field": "Group", "type": "ordinal", "legend": null, "scale": {"domain": ["1","2","3","4","5","6","7"], "range": ["#d58fc5","#7db8e2","#b189d2","#e5cf9b","#28a0df","#e07c7c","#3e7d6a"]}}}},
            {"transform": [{"filter": "datum.Group != '7'"}], "mark": {"type": "text", "align": "left", "dx": 2, "font": "Lato", "fontSize": 20, "color": "#2b2b2b"}, "encoding": {"x": {"datum": 0, "type": "quantitative", "scale": {"domain": [0, 1]}, "axis": null}, "y": {"field": "Group", "type": "ordinal", "axis": null}, "text": {"field": "Animal"}}},
            {"transform": [{"filter": "datum.Group == '7'"}], "mark": {"type": "text", "align": "left", "dx": 2, "font": "Lato", "fontSize": 20, "fontWeight": "bold", "color": "#ffffff"}, "encoding": {"x": {"datum": 0, "type": "quantitative", "scale": {"domain": [0, 1]}, "axis": null}, "y": {"field": "Group", "type": "ordinal", "axis": null}, "text": {"field": "Animal"}}}]}
        ]}
      ]}
    ]}
  ]
}
]
}
